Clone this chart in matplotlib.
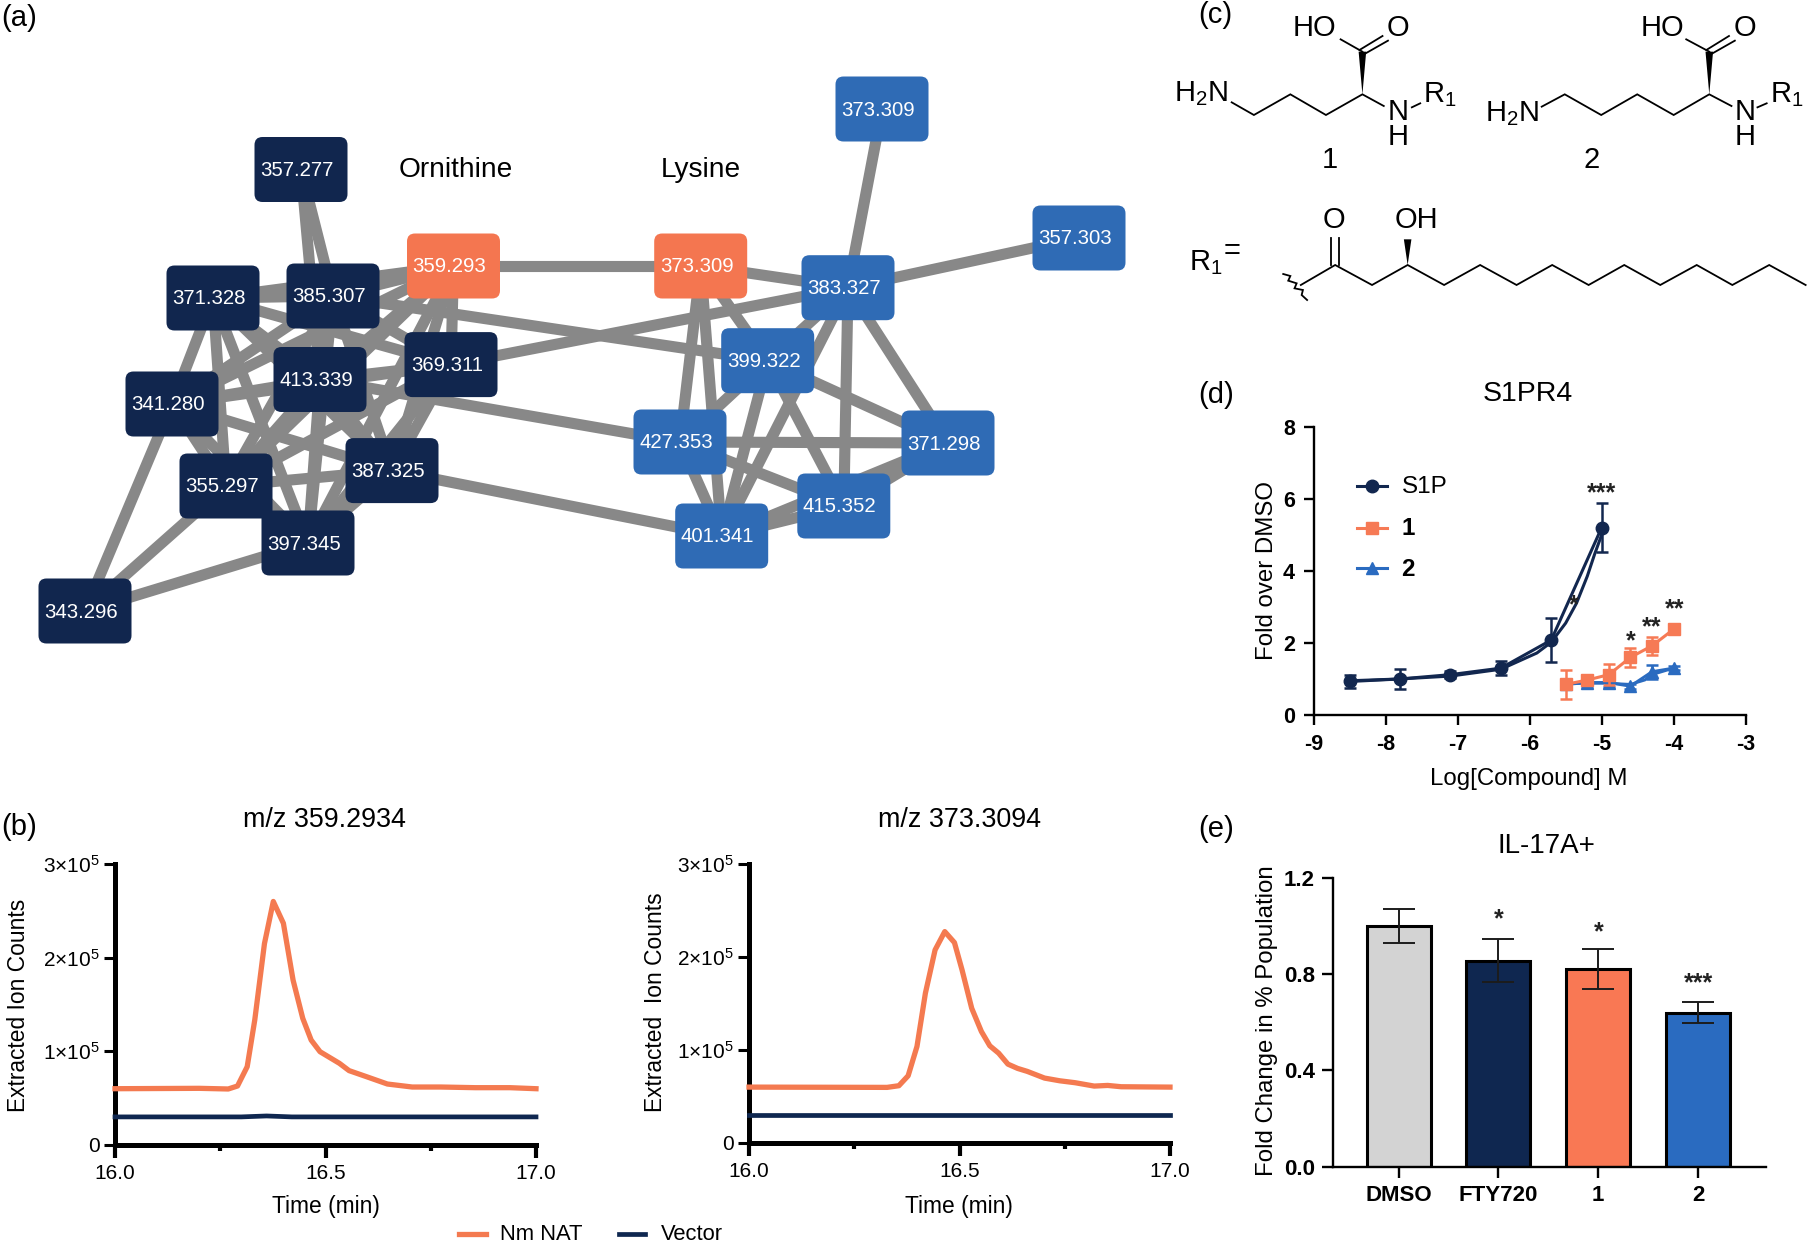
import matplotlib
matplotlib.use("Agg")
import matplotlib.pyplot as plt
from matplotlib.patches import FancyBboxPatch, Polygon
from matplotlib.ticker import FixedLocator, FixedFormatter
from itertools import combinations

plt.rcParams['font.family'] = ['Liberation Sans', 'DejaVu Sans']
plt.rcParams['mathtext.fontset'] = 'custom'
plt.rcParams['mathtext.rm'] = 'Liberation Sans'
plt.rcParams['mathtext.default'] = 'regular'
plt.rcParams['axes.unicode_minus'] = False

W, H = 1807, 1244
NAVY, ORANGE, BLUE, GREY = '#11264E', '#F47650', '#2F6BB5', '#888888'

# ---------- data ----------
node_names = ['o357', 'o359', 'o371', 'o385', 'o413', 'o369', 'o341', 'o355', 'o387', 'o397', 'o343',
              'l373t', 'l357', 'l373', 'l383', 'l399', 'l427', 'l371', 'l415', 'l401']
node_labels = ['357.277', '359.293', '371.328', '385.307', '413.339', '369.311', '341.280', '355.297',
               '387.325', '397.345', '343.296', '373.309', '357.303', '373.309', '383.327', '399.322',
               '427.353', '371.298', '415.352', '401.341']
node_x = [301, 453.5, 213, 333, 320, 451, 172, 226, 392, 308, 85, 882, 1079, 700.7, 848, 767.7, 680, 948, 843.8, 721.7]
node_y = [169.5, 266, 298, 296, 379.5, 364.6, 404, 486, 470.6, 543, 611, 109, 238, 266, 287.7, 360.7, 442, 443, 506, 536]
node_colors = [NAVY] * 11 + [BLUE] * 9
node_colors[1] = ORANGE
node_colors[13] = ORANGE
dense_core = ['o359', 'o371', 'o385', 'o413', 'o369', 'o341', 'o355', 'o387', 'o397']
other_edges = [('o357', 'o385'), ('o357', 'o413'), ('o343', 'o341'), ('o343', 'o355'), ('o343', 'o397'),
               ('o359', 'l373'), ('o385', 'l399'), ('o369', 'l383'), ('o413', 'l427'), ('o387', 'l401'),
               ('l373t', 'l383'), ('l357', 'l383'), ('l373', 'l383'), ('l373', 'l399'), ('l373', 'l427'),
               ('l373', 'l401'), ('l383', 'l399'), ('l383', 'l401'), ('l383', 'l415'), ('l383', 'l371'),
               ('l399', 'l371'), ('l399', 'l427'), ('l399', 'l401'), ('l399', 'l415'), ('l427', 'l371'),
               ('l427', 'l415'), ('l427', 'l401'), ('l401', 'l415'), ('l401', 'l371'), ('l415', 'l371')]

t359 = [16.0, 16.20, 16.269, 16.291, 16.314, 16.332, 16.355, 16.376, 16.40, 16.423, 16.446, 16.466, 16.487,
        16.533, 16.556, 16.597, 16.647, 16.706, 16.774, 16.856, 16.938, 17.0]
nat359 = [.601, .605, .598, .630, .836, 1.335, 2.15, 2.60, 2.367, 1.76, 1.352, 1.12, .996, .872, .794, .73,
          .651, .619, .619, .612, .612, .601]
vec359_t = [16.0, 16.3, 16.36, 16.42, 17.0]
vec359 = [.30, .30, .31, .30, .30]
t373 = [16.0, 16.328, 16.356, 16.378, 16.399, 16.419, 16.442, 16.465, 16.488, 16.506, 16.529, 16.552, 16.572,
        16.593, 16.615, 16.638, 16.661, 16.702, 16.738, 16.775, 16.82, 16.852, 16.884, 17.0]
nat373 = [.601, .598, .616, .723, 1.038, 1.611, 2.076, 2.273, 2.155, 1.862, 1.449, 1.199, 1.045, .966, .848,
          .802, .77, .698, .669, .648, .612, .619, .605, .601]
vec373_t = [16.0, 17.0]
vec373 = [.30, .30]

dose_s1p = [-8.5, -7.8, -7.1, -6.4, -5.7, -5.0]
s1p = [.93, 1.0, 1.12, 1.3, 2.08, 5.2]
s1p_err = [.18, .27, .1, .2, .62, .67]
fit_s1p_x = [-8.5, -7.8, -7.1, -6.4, -5.9, -5.7, -5.5, -5.35, -5.2, -5.1, -5.0]
fit_s1p_y = [.95, 1.0, 1.08, 1.27, 1.72, 2.02, 2.55, 3.1, 3.85, 4.45, 5.0]
dose_cpd = [-5.5, -5.2, -4.9, -4.6, -4.3, -4.0]
cpd1 = [.85, .97, 1.12, 1.6, 1.92, 2.38]
cpd1_err = [.4, .1, .3, .27, .25, .05]
cpd2 = [.85, .9, .9, .8, 1.2, 1.3]
cpd2_err = [.1, .12, .12, .07, .2, .05]
fit2_x = [-5.5, -5.2, -4.9, -4.6, -4.4, -4.3, -4.0]
fit2_y = [.87, .88, .88, .85, .97, 1.12, 1.3]
stars_d = [(-5.0, 6.15, '***'), (-5.39, 3.05, '*'), (-4.6, 2.04, '*'), (-4.3, 2.44, '**'), (-3.98, 2.94, '**')]

bar_labels = ['DMSO', 'FTY720', '1', '2']
bar_vals = [1.0, .855, .82, .64]
bar_errs = [.07, .09, .083, .042]
bar_colors = ['#D3D3D3', '#0F2750', '#F97854', '#2A6BC0']
bar_stars = [None, '*', '*', '***']
bar_star_y = [0, 1.028, .973, .76]

# ---------- helpers ----------
fig = plt.figure(figsize=(W / 100, H / 100), dpi=100, facecolor='white')
canvas = fig.add_axes([0, 0, 1, 1], zorder=0)
canvas.set_xlim(0, W)
canvas.set_ylim(H, 0)
canvas.axis('off')


def axes_px(l, r, t, b):
    ax = fig.add_axes([l / W, 1 - b / H, (r - l) / W, (b - t) / H], zorder=2)
    ax.patch.set_alpha(0)
    ax.spines[['top', 'right']].set_visible(False)
    return ax


def place(ax, l, r, t, b, xlabel=None, ylabel=None, title=None, size=16):
    if xlabel:
        ax.set_xlabel(xlabel[0], fontsize=size, va='center')
        ax.xaxis.set_label_coords((xlabel[1] - l) / (r - l), (b - xlabel[2]) / (b - t))
    if ylabel:
        ax.set_ylabel(ylabel[0], fontsize=size, va='center')
        ax.yaxis.set_label_coords((ylabel[1] - l) / (r - l), (b - ylabel[2]) / (b - t))
    if title:
        ax.set_title(title[0], fontsize=title[3], va='center',
                     x=(title[1] - l) / (r - l), y=(b - title[2]) / (b - t))


# ---------- panel a ----------
pos = {n: (x, y) for n, x, y in zip(node_names, node_x, node_y)}
for a, b in list(combinations(dense_core, 2)) + other_edges:
    canvas.plot([pos[a][0], pos[b][0]], [pos[a][1], pos[b][1]], color=GREY, lw=8, zorder=1,
                solid_capstyle='butt')
for n, lab, col in zip(node_names, node_labels, node_colors):
    x, y = pos[n]
    w, h = 93, 65
    canvas.add_patch(FancyBboxPatch((x - w / 2, y - h / 2), w, h, boxstyle='round,pad=0,rounding_size=8',
                                    fc=col, ec='none', zorder=3))
    canvas.text(x - 4, y + 1, lab, color='white', fontsize=14.7, ha='center', va='center', zorder=4)
canvas.text(456, 170, 'Ornithine', fontsize=20.2, ha='center', va='center')
canvas.text(700.7, 170, 'Lysine', fontsize=20.2, ha='center', va='center')

for s, x, y in [('(a)', 1, 18), ('(b)', 1, 827), ('(c)', 1198, 15), ('(d)', 1198, 395), ('(e)', 1198, 829)]:
    canvas.text(x, y, s, fontsize=21, ha='left', va='center')


# ---------- panel c (structures) ----------
def z(pts):
    return [(1150 + x / 2.387, y / 3) for x, y in pts]


def bond(pts):
    p = z(pts)
    canvas.plot([q[0] for q in p], [q[1] for q in p], color='black', lw=1.3, solid_joinstyle='miter')


def wedge(tip, base):
    p = z([tip, (base[0] - 9, base[1]), (base[0] + 9, base[1])])
    canvas.add_patch(Polygon(p, closed=True, fc='black', ec='none'))


def chem(s, x, y):
    p = z([(x, y)])[0]
    canvas.text(p[0], p[1], s, fontsize=21, ha='center', va='center')


bond([(195, 307), (248, 345), (335, 283), (420, 345), (507, 283), (558, 318)])
wedge((507, 283), (507, 155))
bond([(507, 155), (455, 118)])
bond([(500, 150), (555, 108)])
bond([(512, 162), (568, 122)])
bond([(625, 322), (645, 310)])
chem('H$_{2}$N', 122, 282)
chem('HO', 393, 85)
chem('O', 592, 85)
chem('N', 592, 335)
chem('H', 592, 410)
chem('R$_{1}$', 692, 285)
chem('1', 430, 480)

bond([(935, 320), (990, 283), (1077, 345), (1163, 283), (1250, 345), (1335, 283), (1388, 318)])
wedge((1335, 283), (1335, 155))
bond([(1335, 155), (1280, 118)])
bond([(1328, 150), (1382, 108)])
bond([(1340, 162), (1396, 122)])
bond([(1450, 322), (1472, 310)])
chem('H$_{2}$N', 865, 342)
chem('HO', 1222, 85)
chem('O', 1420, 85)
chem('N', 1420, 335)
chem('H', 1420, 410)
chem('R$_{1}$', 1520, 285)
chem('2', 1055, 480)

chem('R$_{1}$', 132, 788)
chem('=', 195, 752)
chem('O', 440, 660)
chem('OH', 635, 660)
bond([(360, 855), (442, 795), (530, 855), (615, 795), (702, 855), (788, 795), (875, 855), (960, 795),
      (1047, 855), (1132, 795), (1218, 855), (1305, 795), (1390, 855), (1478, 795), (1565, 855)])
bond([(432, 795), (432, 715)])
bond([(452, 795), (452, 715)])
wedge((615, 795), (615, 718))
bond([(318, 822), (335, 828), (330, 842), (350, 850), (345, 865), (365, 870), (362, 885), (375, 900)])


# ---------- panel b ----------
def chrom(l, r, t, b, tt, nat, vt, vec, title, ylab, yl_x, yl_y, tit_x, xl_x):
    ax = axes_px(l, r, t, b)
    ax.plot(tt, nat, color='#F47A50', lw=3.8, solid_joinstyle='round', clip_on=False, zorder=3,
            label='Nm NAT')
    ax.plot(vt, vec, color='#0F2750', lw=3.4, clip_on=False, zorder=3, label='Vector')
    ax.set_xlim(16, 17)
    ax.set_ylim(0, 3)
    ax.spines[['left', 'bottom']].set_linewidth(3.6)
    ax.xaxis.set_major_locator(FixedLocator([16, 16.5, 17]))
    ax.xaxis.set_major_formatter(FixedFormatter(['16.0', '16.5', '17.0']))
    ax.xaxis.set_minor_locator(FixedLocator([16.25, 16.75]))
    ax.yaxis.set_major_locator(FixedLocator([0, 1, 2, 3]))
    ax.yaxis.set_major_formatter(FixedFormatter(['0', r'1×10$^{5}$', r'2×10$^{5}$', r'3×10$^{5}$']))
    ax.tick_params(axis='x', which='major', length=9, width=3, labelsize=15, pad=5, direction='out')
    ax.tick_params(axis='x', which='minor', length=4, width=3)
    ax.tick_params(axis='y', which='major', length=8, width=2.2, labelsize=15, pad=3)
    place(ax, l, r, t, b, xlabel=('Time (min)', xl_x, 1206), ylabel=(ylab, yl_x, yl_y),
          title=(title, tit_x, 828, 19.4), size=16.4)
    return ax


ax_b1 = chrom(115, 536, 864, 1145, t359, nat359, vec359_t, vec359, 'm/z 359.2934', 'Extracted Ion Counts',
              19, 1005, 324, 326)
ax_b2 = chrom(749, 1170, 864, 1143, t373, nat373, vec373_t, vec373, 'm/z 373.3094', 'Extracted  Ion Counts',
              655, 1002, 959, 959)
canvas.plot([459, 486], [1234, 1234], color='#F47A50', lw=3.8)
canvas.text(500, 1235, 'Nm NAT', fontsize=15.8, ha='left', va='center')
canvas.plot([619, 645], [1234, 1234], color='#0F2750', lw=3.4)
canvas.text(661, 1235, 'Vector', fontsize=15.8, ha='left', va='center')

# ---------- panel d ----------
l, r, t, b = 1313.6, 1745.7, 426.7, 715
ax_d = axes_px(l, r, t, b)
C_D = '#12274F'
C_O = '#F67A55'
C_B = '#2A6BC0'
ax_d.plot(fit2_x, fit2_y, color=C_B, lw=2, zorder=2)
ax_d.errorbar(dose_cpd, cpd2, yerr=cpd2_err, color=C_B, lw=2.2, marker='^', ms=9, capsize=4, capthick=1.8,
              elinewidth=1.8, zorder=2, clip_on=False)
ax_d.errorbar(dose_cpd, cpd1, yerr=cpd1_err, color=C_O, lw=2.2, marker='s', ms=9, capsize=4, capthick=1.8,
              elinewidth=1.8, zorder=3, clip_on=False)
ax_d.plot(fit_s1p_x, fit_s1p_y, color=C_D, lw=2.2, zorder=4)
ax_d.errorbar(dose_s1p, s1p, yerr=s1p_err, color=C_D, lw=2.2, marker='o', ms=9, capsize=4, capthick=1.8,
              elinewidth=1.8, zorder=4, clip_on=False)
ax_d.set_xlim(-9, -3)
ax_d.set_ylim(0, 8)
ax_d.spines[['left', 'bottom']].set_linewidth(1.7)
ax_d.set_xticks(range(-9, -2))
ax_d.set_yticks([0, 2, 4, 6, 8])
ax_d.tick_params(axis='both', length=7.5, width=1.7, labelsize=15.5, pad=6)
for lab in ax_d.get_xticklabels() + ax_d.get_yticklabels():
    lab.set_fontweight('bold')
for x, y, s in stars_d:
    ax_d.text(x, y, s, fontsize=18, fontweight='bold', ha='center', va='center', zorder=6,
              color='#222222')
place(ax_d, l, r, t, b, xlabel=('Log[Compound] M', 1529, 779), ylabel=('Fold over DMSO', 1267, 570),
      title=('S1PR4', 1528, 402, 20.5), size=17.3)
leg_items = [('S1P', 6.36, C_D, 'o', 'normal'), ('1', 5.2, C_O, 's', 'bold'), ('2', 4.07, C_B, '^', 'bold')]
for s, y, c, m, wgt in leg_items:
    ax_d.plot([-8.4, -7.98], [y, y], color=c, lw=2.2)
    ax_d.plot([-8.19], [y], color=c, marker=m, ms=9)
    ax_d.text(-7.78, y - 0.03, s, fontsize=17.5, fontweight=wgt, ha='left', va='center')

# ---------- panel e ----------
l, r, t, b = 1333, 1766, 877.7, 1166.7
ax_e = axes_px(l, r, t, b)
xs = list(range(len(bar_vals)))
ax_e.bar(xs, bar_vals, width=.64, color=bar_colors, edgecolor='black', linewidth=2.2, zorder=2)
ax_e.errorbar(xs, bar_vals, yerr=bar_errs, fmt='none', ecolor='#1c1c1c', elinewidth=1.4, capsize=11.5,
              capthick=1.4, zorder=3)
ax_e.set_xlim(-.657, 3.68)
ax_e.set_ylim(0, 1.2)
ax_e.spines[['left', 'bottom']].set_linewidth(1.7)
ax_e.set_xticks(xs)
ax_e.set_xticklabels(bar_labels)
ax_e.set_yticks([0, .4, .8, 1.2])
ax_e.set_yticklabels(['0.0', '0.4', '0.8', '1.2'])
ax_e.tick_params(axis='both', length=8, width=1.7, labelsize=16, pad=5)
for lab in ax_e.get_xticklabels() + ax_e.get_yticklabels():
    lab.set_fontweight('bold')
for x, s, y in zip(xs, bar_stars, bar_star_y):
    if s:
        ax_e.text(x, y, s, fontsize=18, fontweight='bold', ha='center', va='center', color='#222222')
place(ax_e, l, r, t, b, ylabel=('Fold Change in % Population', 1267, 1021),
      title=('IL-17A+', 1546, 854, 20), size=17.3)

fig.savefig('out.png', dpi=100, facecolor='white')
